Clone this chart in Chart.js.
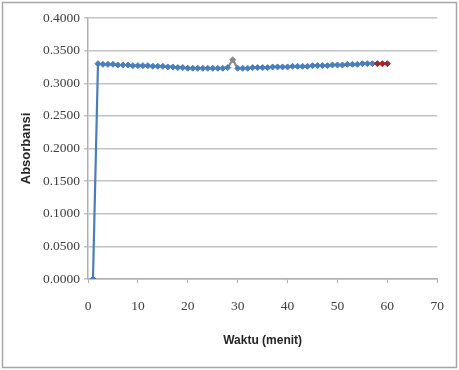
<!DOCTYPE html>
<html>
<head>
<meta charset="utf-8">
<script src="https://cdn.jsdelivr.net/npm/chart.js@4"></script>
<style>
  body { margin: 0; background: #fff; }
  #wrap { width: 459px; height: 370px; position: relative; }
</style>
</head>
<body>
<div id="wrap"><canvas id="absChart" width="459" height="370"></canvas></div>
<script>
// waktu (menit) and absorbansi
var waktu = [1, 2, 3, 4, 5, 6, 7, 8, 9, 10, 11, 12, 13, 14, 15, 16, 17, 18, 19, 20,
             21, 22, 23, 24, 25, 26, 27, 28, 29, 30, 31, 32, 33, 34, 35, 36, 37, 38, 39, 40,
             41, 42, 43, 44, 45, 46, 47, 48, 49, 50, 51, 52, 53, 54, 55, 56, 57, 58, 59, 60];
var absorbansi = [0.000, 0.330, 0.329, 0.329, 0.329, 0.328, 0.328, 0.328, 0.327, 0.327,
                  0.327, 0.327, 0.326, 0.326, 0.326, 0.325, 0.325, 0.324, 0.324, 0.323,
                  0.323, 0.323, 0.323, 0.323, 0.323, 0.323, 0.323, 0.324, 0.336, 0.323,
                  0.323, 0.323, 0.324, 0.324, 0.324, 0.324, 0.325, 0.325, 0.325, 0.325,
                  0.326, 0.326, 0.326, 0.326, 0.327, 0.327, 0.327, 0.327, 0.328, 0.328,
                  0.328, 0.329, 0.329, 0.329, 0.330, 0.330, 0.330, 0.330, 0.330, 0.330];
var xTicks = [0, 10, 20, 30, 40, 50, 60, 70];
var yTicks = [0, 0.05, 0.1, 0.15, 0.2, 0.25, 0.3, 0.35, 0.4];

var blue = '#4a7ebb';
var red = '#a0282d';
var grey = '#8a8a8a';
var spikeIdx = 28;   // point at 29 min drawn grey
var redFrom = 57;    // last three points drawn red

function pointColor(i) {
    if (i === spikeIdx) return grey;
    if (i >= redFrom) return red;
    return blue;
}
var colors = absorbansi.map(function (v, i) { return pointColor(i); });

var frame = {
    id: 'frame',
    afterDraw: function (chart) {
        var c = chart.ctx;
        c.save();
        c.strokeStyle = '#a6a6a6';
        c.lineWidth = 1.5;
        c.strokeRect(2.5, 2.5, 454, 365);
        c.restore();
    }
};

var ctx = document.getElementById('absChart').getContext('2d');
new Chart(ctx, {
    type: 'line',
    data: {
        datasets: [{
            label: 'Absorbansi',
            data: waktu.map(function (t, i) { return { x: t, y: absorbansi[i] }; }),
            borderColor: blue,
            borderWidth: 2.2,
            pointStyle: 'rectRot',
            pointRadius: 3,
            pointBorderWidth: 1,
            pointBackgroundColor: colors,
            pointBorderColor: colors,
            tension: 0,
            segment: {
                borderColor: function (s) {
                    if (s.p1DataIndex === spikeIdx || s.p0DataIndex === spikeIdx) return grey;
                    if (s.p1DataIndex >= redFrom) return red;
                    return blue;
                }
            }
        }]
    },
    options: {
        responsive: false,
        animation: false,
        layout: { padding: { left: 0, right: 21, top: 18, bottom: 0 } },
        plugins: { legend: { display: false }, tooltip: { enabled: false } },
        scales: {
            x: {
                type: 'linear',
                min: 0,
                max: 70,
                afterBuildTicks: function (axis) { axis.ticks = xTicks.map(function (v) { return { value: v }; }); },
                afterFit: function (axis) { axis.height = 91; },
                grid: { drawOnChartArea: false, color: '#b0b0b0', tickLength: 4 },
                border: { color: '#b0b0b0', width: 1.5 },
                ticks: {
                    padding: 15,
                    color: '#404040',
                    font: { family: 'Liberation Serif', size: 13.5 }
                },
                title: {
                    display: true,
                    text: 'Waktu (menit)',
                    color: '#262626',
                    font: { family: 'Liberation Sans', size: 12, weight: 'bold' },
                    padding: { top: 0, bottom: 22 }
                }
            },
            y: {
                min: 0,
                max: 0.4,
                afterBuildTicks: function (axis) { axis.ticks = yTicks.map(function (v) { return { value: v }; }); },
                afterFit: function (axis) { axis.width = 88; },
                grid: { color: '#c4c4c4', lineWidth: 1.5, tickLength: 4 },
                border: { color: '#b0b0b0', width: 1.5 },
                ticks: {
                    padding: 4,
                    color: '#404040',
                    font: { family: 'Liberation Serif', size: 13.5 },
                    callback: function (v) { return v.toFixed(4); }
                },
                title: {
                    display: true,
                    text: 'Absorbansi',
                    color: '#262626',
                    font: { family: 'Liberation Sans', size: 13, weight: 'bold' },
                    padding: { top: 19, bottom: 0 }
                }
            }
        }
    },
    plugins: [frame]
});
</script>
</body>
</html>
